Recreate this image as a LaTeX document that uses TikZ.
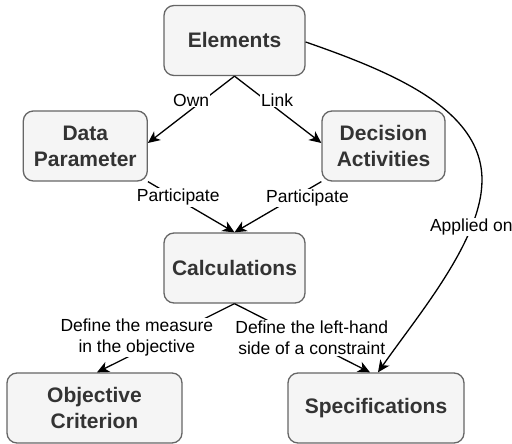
\documentclass[tikz,border=0pt]{standalone}
\usepackage{fontspec}
\setmainfont{Liberation Sans}
\usetikzlibrary{arrows.meta}
\definecolor{boxfill}{HTML}{F5F5F5}
\definecolor{boxline}{HTML}{666666}
\definecolor{boxtext}{HTML}{333333}
\tikzset{
block/.style={ % Sets the properties for each box
rectangle, rounded corners=10pt,
draw=boxline, line width=1.3pt,
fill=boxfill, text=boxtext,
minimum height=70pt, align=center,
font=\bfseries\fontsize{21}{26}\selectfont},
lbl/.style={ % Labels sit on the line
fill=white, inner sep=1pt, align=center,
font=\fontsize{17.5}{21}\selectfont},
flow/.style={
draw,
-{Stealth[length=12pt,width=11pt,inset=3.5pt]}, % Bold arrowheads
line width=1.3pt},
every edge/.style={flow}}

\begin{document}
\begin{tikzpicture}[x=1pt,y=1pt]
	\useasboundingbox (0,0) rectangle (512,444);
	\node[block, minimum width=141pt] (el) at (234.5,403.5) {Elements};
	\node[block, minimum width=124pt] (dp) at (85.3,298) {Data\\Parameter};
	\node[block, minimum width=123pt] (da) at (383.5,298) {Decision\\Activities};
	\node[block, minimum width=141pt] (calc) at (234.5,176) {Calculations};
	\node[block, minimum width=175pt] (oc) at (94.5,36) {Objective\\Criterion};
	\node[block, minimum width=176pt] (sp) at (376,36) {Specifications};
	\draw (el.south) edge node[lbl, pos=.5, yshift=9.5] {Own} ([yshift=3]dp.east);
	\draw (el.south) edge node[lbl, pos=.49, yshift=9] {Link} ([yshift=3]da.west);
	\draw (dp.south east) edge node[lbl, pos=.35, yshift=2] {Participate} (calc.north);
	\draw (da.south west) edge node[lbl, pos=.16, yshift=-8] {Participate} (calc.north);
	\draw (calc.south) edge node[lbl, pos=.71, yshift=15] {Define the measure\\in the objective} ([xshift=2.5]oc.north);
	\draw (calc.south) edge node[lbl, pos=.57, yshift=5] {Define the left-hand\\side of a constraint} ([xshift=-6]sp.north);
	\draw[flow] ([yshift=-1.5]el.east) .. controls (395,371) and (482,334) .. (482,264)
		.. controls (482,204) and (418,129) .. node[lbl, pos=.25] {Applied on} ([xshift=2]sp.north);
\end{tikzpicture}
\end{document}
